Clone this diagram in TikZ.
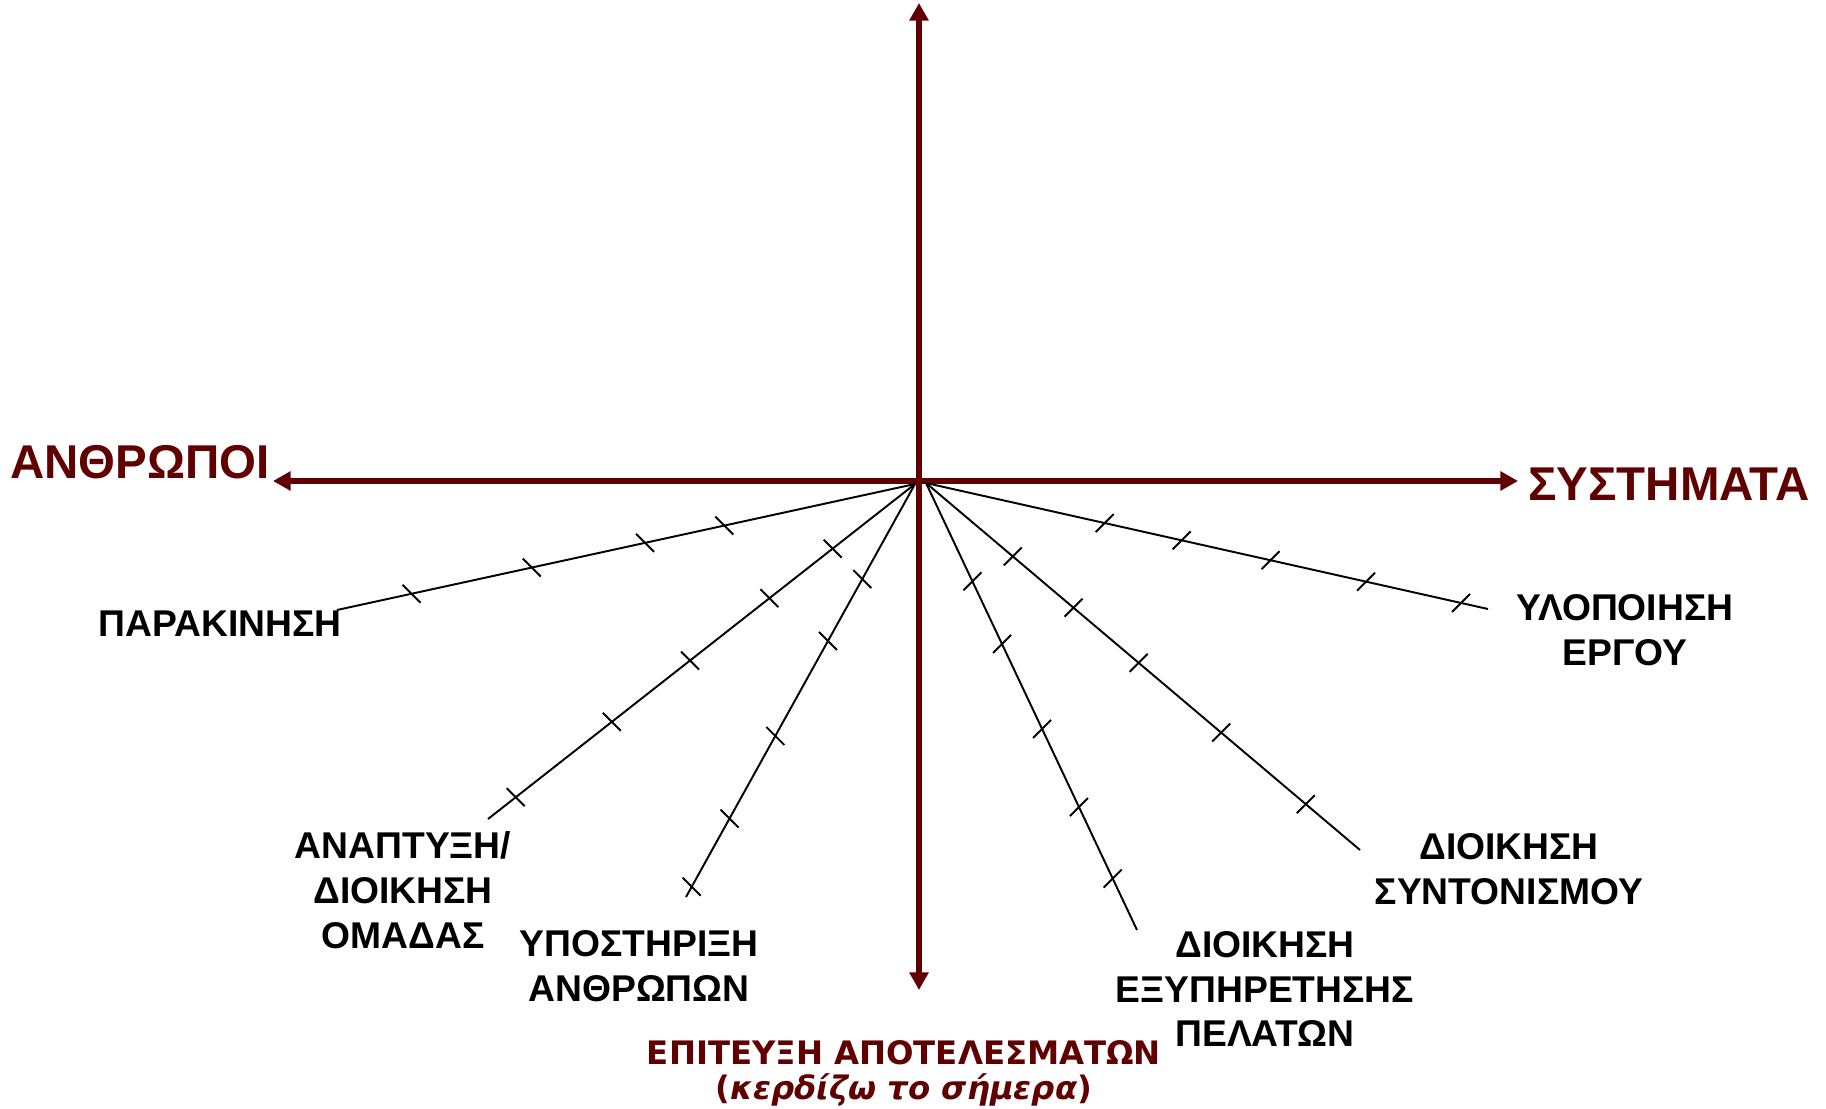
\documentclass[tikz,border=0pt]{standalone}
\usepackage{fontspec}
\usepackage{tikz}
\usetikzlibrary{arrows.meta,calc}
\newfontfamily\lblfont{Liberation Sans}
\newfontfamily\goalfont{DejaVu Sans}[ItalicFont={DejaVu Sans Oblique},BoldItalicFont={DejaVu Sans Bold Oblique}]
\definecolor{axisred}{RGB}{96,0,0}

\tikzset{
  axisline/.style={draw=axisred, line width=3.4pt,
    {Triangle[width=10.5pt,length=10pt]}-{Triangle[width=10.5pt,length=10pt]}},
  ray/.style={draw=black, line width=1.1pt},
  tickmark/.style={draw=black, line width=1.1pt},
  skill/.style={font=\lblfont\bfseries\fontsize{21.2}{25.5}\selectfont, align=center, inner sep=0pt},
  pole/.style={font=\lblfont\bfseries\fontsize{27}{32}\selectfont, text=axisred, inner sep=0pt},
  goal/.style={font=\goalfont\bfseries\fontsize{18.4}{20}\selectfont, text=axisred, inner sep=0pt, anchor=base},
}

\begin{document}
\begin{tikzpicture}[x=0.02cm, y=-0.02cm]
    \useasboundingbox (0,0) rectangle (1826,1109);

    % Axes
    \coordinate (O) at (919,481);
    \coordinate (top) at (919,3);
    \coordinate (bottom) at (919,990);
    \coordinate (west) at (273,481);
    \coordinate (east) at (1518,481);
    \draw[axisline] (bottom) -- (top);
    \draw[axisline] (west) -- (east);

    % Ray origins and free ends
    \coordinate (oL) at (915,484);
    \coordinate (oR) at (926,483);
    \coordinate (e1) at (337,610);
    \coordinate (e2) at (488,819);
    \coordinate (e3) at (686,897);
    \coordinate (e4) at (1137,930);
    \coordinate (e5) at (1360,850);
    \coordinate (e6) at (1488,609);

    % Rays
    \foreach \o/\e in {oL/e1, oL/e2, oL/e3, oR/e4, oR/e5, oR/e6}
        \draw[ray] (\o) -- (\e);

    % Tick marks on the rays
    \foreach \o/\e/\dy/\ts in {oL/e1/1/{0.33,0.467,0.663,0.871},
                               oL/e2/1/{0.193,0.341,0.527,0.71,0.935},
                               oL/e3/1/{0.23,0.38,0.61,0.81,0.975},
                               oR/e4/-1/{0.22,0.36,0.55,0.725,0.885},
                               oR/e5/-1/{0.2,0.34,0.49,0.68,0.875},
                               oR/e6/-1/{0.318,0.455,0.613,0.783,0.952}}
        \foreach \t in \ts {
            \path (\o) -- (\e) coordinate[pos=\t] (tk);
            \draw[tickmark] ($(tk)+(-9,-9*\dy)$) -- ($(tk)+(9,9*\dy)$);
        }

    % Axis labels
    \node[pole] (people) at (140,462) {ΑΝΘΡΩΠΟΙ};
    \node[pole] (systems) at (1669,484) {ΣΥΣΤΗΜΑΤΑ};
    \node[goal] (goal) at (904,1064) {ΕΠΙΤΕΥΞΗ ΑΠΟΤΕΛΕΣΜΑΤΩΝ};
    \node[goal] (note) at (904,1099) {(\textit{κερδίζω το σήμερα})};

    % Ray labels
    \node[skill] (motiv) at (220,624) {ΠΑΡΑΚΙΝΗΣΗ};
    \node[skill] (team) at (403,890) {ΑΝΑΠΤΥΞΗ/\\ΔΙΟΙΚΗΣΗ\\ΟΜΑΔΑΣ};
    \node[skill] (support) at (639,966) {ΥΠΟΣΤΗΡΙΞΗ\\ΑΝΘΡΩΠΩΝ};
    \node[skill] (service) at (1265,989) {ΔΙΟΙΚΗΣΗ\\ΕΞΥΠΗΡΕΤΗΣΗΣ\\ΠΕΛΑΤΩΝ};
    \node[skill] (coord) at (1509,869) {ΔΙΟΙΚΗΣΗ\\ΣΥΝΤΟΝΙΣΜΟΥ};
    \node[skill] (project) at (1625,630) {ΥΛΟΠΟΙΗΣΗ\\ΕΡΓΟΥ};
\end{tikzpicture}
\end{document}
